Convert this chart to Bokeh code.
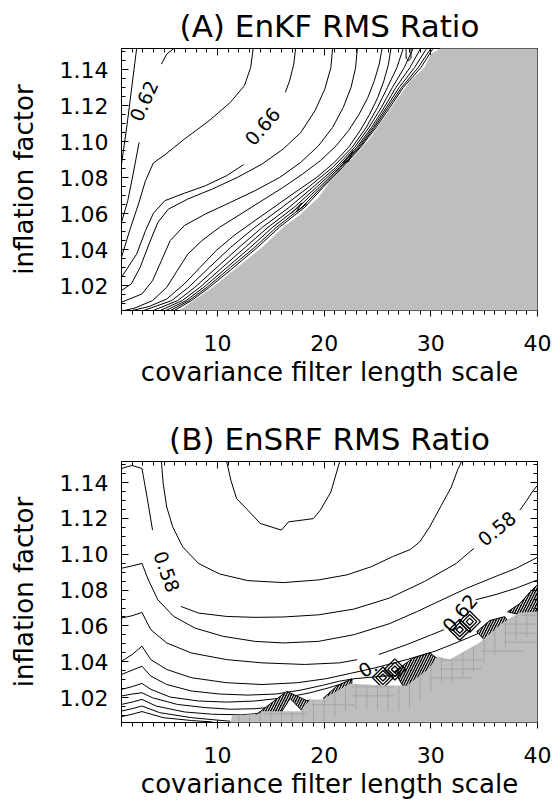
import numpy as np
from bokeh.plotting import figure
from bokeh.layouts import column
from bokeh.models import FixedTicker, LinearAxis, Range1d, PrintfTickFormatter, CustomJSTickFormatter
from bokeh.embed import file_html
from bokeh.resources import INLINE
from bokeh.core.properties import value

FONT = "DejaVu Sans"
GREY = "#bebebe"
CELL_GRID = "#a4a4a4"

# ---------------- axes / ticks ----------------
X_RANGE = (1.0, 40.0)
Y_RANGE = (1.0061, 1.1518)
X_MAJOR = [10, 20, 30, 40]
X_MINOR = list(range(1, 41))
Y_MAJOR = [1.02, 1.04, 1.06, 1.08, 1.10, 1.12, 1.14]
Y_MINOR = [1.005, 1.01, 1.015, 1.02, 1.025, 1.03, 1.035, 1.04, 1.045, 1.05, 1.055, 1.06,
           1.065, 1.07, 1.075, 1.08, 1.085, 1.09, 1.095, 1.10, 1.105, 1.11, 1.115, 1.12,
           1.125, 1.13, 1.135, 1.14, 1.145, 1.15]

# ---------------- Panel A: EnKF contour lines ----------------
a060_x = [2.42, 2.00, 1.53, 1.00]
a060_y = [1.1518, 1.1320, 1.1098, 1.0875]
a062u_x = [5.90, 5.24, 4.74]
a062u_y = [1.1518, 1.1487, 1.1431]
a062l_x = [2.65, 2.09, 1.59, 1.00]
a062l_y = [1.0996, 1.0820, 1.0672, 1.0551]
a064_x = [13.34, 13.11, 12.52, 11.20, 9.21, 6.89, 5.07, 3.98, 3.25, 2.59, 1.76, 1.00]
a064_y = [1.1518, 1.1412, 1.1311, 1.1218, 1.1116, 1.1014, 1.0927, 1.0881, 1.0783, 1.0653, 1.0505, 1.0357]
a066u_x = [17.32, 17.15, 16.76, 16.36]
a066u_y = [1.1518, 1.1431, 1.1338, 1.1274]
a066l_x = [12.45, 10.86, 8.88, 6.89, 5.07, 3.98, 3.25, 2.42, 1.00]
a066l_y = [1.0872, 1.0811, 1.0755, 1.0713, 1.0672, 1.0601, 1.0505, 1.0375, 1.0246]
a068_x = [20.79, 20.63, 20.06, 19.14, 17.81, 16.16, 14.17, 11.86, 9.54, 7.22, 5.40, 4.41, 3.58, 2.75, 1.92, 1.00]
a068_y = [1.1518, 1.1412, 1.1292, 1.1172, 1.1051, 1.0959, 1.0875, 1.0801, 1.0737, 1.0681, 1.0625, 1.0551, 1.0431, 1.0301, 1.0209, 1.0172]
a070_x = [23.11, 22.95, 22.52, 21.79, 20.79, 19.47, 17.81, 15.83, 13.51, 11.20, 8.88, 6.89, 5.57, 4.74, 3.91, 2.92, 1.00]
a070_y = [1.1518, 1.1412, 1.1301, 1.1190, 1.1079, 1.0977, 1.0885, 1.0801, 1.0727, 1.0662, 1.0598, 1.0533, 1.0450, 1.0338, 1.0227, 1.0153, 1.0107]
a072_x = [25.43, 25.16, 24.70, 24.10, 23.28, 22.28, 21.12, 19.64, 17.98, 16.16, 14.17, 12.19, 10.20, 8.55, 7.22, 6.23, 5.24, 3.91, 2.26, 1.26]
a072_y = [1.1518, 1.1431, 1.1338, 1.1246, 1.1153, 1.1061, 1.0977, 1.0894, 1.0820, 1.0746, 1.0672, 1.0598, 1.0524, 1.0450, 1.0375, 1.0283, 1.0190, 1.0116, 1.0075, 1.0061]
a074_x = [26.26, 26.03, 25.60, 25.03, 24.27, 23.37, 22.28, 20.96, 19.30, 17.48, 15.50, 13.51, 11.53, 9.87, 8.38, 6.89, 5.24, 3.58, 1.99]
a074_y = [1.1518, 1.1431, 1.1338, 1.1246, 1.1153, 1.1061, 1.0968, 1.0885, 1.0801, 1.0727, 1.0644, 1.0561, 1.0477, 1.0394, 1.0301, 1.0209, 1.0125, 1.0083, 1.0061]
a_outer_y = [1.1518, 1.1412, 1.1301, 1.1190, 1.1079, 1.0968, 1.0857, 1.0746, 1.0635, 1.0524, 1.0412, 1.0301, 1.0190, 1.0116, 1.0061]
a076_x = [27.41, 26.82, 25.93, 25.00, 23.94, 22.62, 20.79, 18.51, 16.06, 13.51, 11.23, 9.24, 7.29, 5.70, 3.09]
a078_x = [28.34, 27.51, 26.39, 25.36, 24.20, 22.85, 21.09, 18.94, 16.72, 14.21, 12.02, 9.94, 7.88, 6.26, 3.98]
a080_x = [29.04, 28.04, 26.72, 25.63, 24.44, 23.05, 21.29, 19.27, 17.19, 14.74, 12.59, 10.47, 8.35, 6.69, 4.64]
a082_x = [29.60, 28.47, 27.02, 25.83, 24.60, 23.18, 21.46, 19.54, 17.58, 15.17, 13.08, 10.90, 8.71, 7.06, 5.17]
a084_x = [30.00, 28.81, 27.25, 25.99, 24.73, 23.31, 21.59, 19.74, 17.91, 15.53, 13.48, 11.23, 9.01, 7.32, 5.60]
a086_x = [30.20, 29.07, 27.41, 26.16, 24.87, 23.41, 21.72, 19.90, 18.18, 15.80, 13.74, 11.53, 9.24, 7.55, 5.96]
a_loop_x = [27.68, 27.68, 27.91, 28.14, 28.14]
a_loop_y = [1.1518, 1.1464, 1.1449, 1.1464, 1.1518]
# small kinks of the packed contours near the divergence edge
a_kink_xs = [[16.9, 17.9, 17.4, 18.4], [21.8, 22.7, 22.3, 21.8]]
a_kink_ys = [[1.0600, 1.0660, 1.0610, 1.0655], [1.0880, 1.0950, 1.0890, 1.0880]]

# divergence (grey) boundary, panel A
a_grey_x = [6.40, 8.22, 9.54, 11.86, 14.17, 16.16, 17.82, 19.47, 20.80, 22.12, 24.10, 25.43, 26.75, 28.08, 29.40, 30.00, 30.89]
a_grey_y = [1.0061, 1.0135, 1.0190, 1.0301, 1.0412, 1.0524, 1.0598, 1.0690, 1.0801, 1.0875, 1.1005, 1.1116, 1.1227, 1.1338, 1.1412, 1.1487, 1.1518]

a_lab_x = [3.09, 14.20]
a_lab_y = [1.1227, 1.1085]
a_lab_t = ["0.62", "0.66"]
a_lab_ang = [66, 49]

# ---------------- Panel B: EnSRF contour lines ----------------
b054_x = [10.86, 11.26, 11.79, 12.85, 14.01, 15.99, 16.66, 18.98, 19.64, 20.63, 21.12, 21.46]
b054_y = [1.1518, 1.1412, 1.1311, 1.1246, 1.1172, 1.1135, 1.1181, 1.1199, 1.1246, 1.1348, 1.1449, 1.1518]
b056_x = [4.74, 4.91, 5.24, 5.80, 6.73, 8.22, 10.20, 12.85, 16.16, 19.47, 22.12, 24.43, 26.42, 28.08, 28.97, 29.89, 30.99, 31.92, 32.55, 32.88]
b056_y = [1.1518, 1.1394, 1.1264, 1.1153, 1.1042, 1.0949, 1.0890, 1.0853, 1.0842, 1.0857, 1.0885, 1.0931, 1.0987, 1.1027, 1.1070, 1.1153, 1.1274, 1.1375, 1.1477, 1.1518]
b058a_x = [1.00, 1.99, 2.92, 3.42, 3.91]
b058a_y = [1.1479, 1.1496, 1.1479, 1.1311, 1.1135]
b058b_x = [6.56, 8.22, 10.86, 13.51, 16.16, 19.47, 22.78, 26.09, 29.40, 32.38, 34.04]
b058b_y = [1.0709, 1.0672, 1.0653, 1.0648, 1.0650, 1.0662, 1.0694, 1.0755, 1.0848, 1.0949, 1.1033]
b058c_x = [38.34, 39.00, 39.50, 40.00]
b058c_y = [1.1246, 1.1301, 1.1348, 1.1385]
b060_x = [1.00, 1.99, 2.92, 3.52, 4.41, 5.90, 7.89, 10.53, 13.51, 16.16, 19.47, 22.78, 26.09, 28.74, 31.05, 33.39, 36.02, 38.01, 40.00]
b060_y = [1.0922, 1.0935, 1.0949, 1.0857, 1.0746, 1.0653, 1.0588, 1.0542, 1.0514, 1.0505, 1.0514, 1.0551, 1.0612, 1.0681, 1.0746, 1.0811, 1.0875, 1.0922, 1.0983]
b062a_x = [1.00, 1.99, 2.92, 3.75, 5.24, 7.55, 10.86, 14.17, 18.14, 21.46, 23.11]
b062a_y = [1.0644, 1.0657, 1.0675, 1.0579, 1.0505, 1.0449, 1.0412, 1.0394, 1.0385, 1.0394, 1.0412]
b062b_x = [25.10, 27.75, 30.06, 31.22]
b062b_y = [1.0440, 1.0496, 1.0551, 1.0579]
b062c_x = [34.20, 36.02, 38.01, 40.00]
b062c_y = [1.0746, 1.0774, 1.0811, 1.0857]
b064_x = [1.00, 1.99, 2.92, 3.75, 5.24, 7.55, 10.86, 14.17, 17.48, 20.13, 22.45, 24.77, 27.75, 30.39, 32.71, 34.57, 36.02]
b064_y = [1.0403, 1.0440, 1.0487, 1.0412, 1.0357, 1.0311, 1.0283, 1.0273, 1.0283, 1.0305, 1.0335, 1.0366, 1.0412, 1.0459, 1.0514, 1.0561, 1.0598]
b066_x = [1.00, 1.99, 2.92, 3.75, 5.24, 7.55, 10.20, 12.85, 15.50, 17.81, 19.81, 21.46, 22.78, 24.77, 26.76, 28.74, 29.70]
b066_y = [1.0329, 1.0353, 1.0375, 1.0320, 1.0273, 1.0237, 1.0220, 1.0214, 1.0220, 1.0242, 1.0268, 1.0292, 1.0305, 1.0316, 1.0324, 1.0348, 1.0366]
b068_x = [1.00, 1.99, 2.92, 3.75, 5.57, 8.22, 10.86, 13.51, 15.50, 17.15, 18.68, 20.46, 22.42]
b068_y = [1.0246, 1.0261, 1.0279, 1.0246, 1.0203, 1.0181, 1.0175, 1.0181, 1.0194, 1.0209, 1.0227, 1.0255, 1.0292]
b070_x = [1.00, 1.99, 2.92, 3.91, 6.23, 8.88, 11.20, 13.51, 15.50, 17.15, 18.68]
b070_y = [1.0209, 1.0220, 1.0227, 1.0199, 1.0162, 1.0144, 1.0135, 1.0138, 1.0149, 1.0162, 1.0187]
b072_x = [1.00, 1.99, 2.92, 4.24, 6.89, 9.54, 12.19, 14.01]
b072_y = [1.0162, 1.0175, 1.0190, 1.0153, 1.0120, 1.0107, 1.0104, 1.0112]
b074_x = [1.00, 1.99, 2.92, 4.57, 7.55, 9.87, 11.20]
b074_y = [1.0125, 1.0138, 1.0153, 1.0116, 1.0088, 1.0075, 1.0068]
b076_x = [1.00, 1.99, 2.92, 4.91, 7.55, 9.54]
b076_y = [1.0094, 1.0107, 1.0122, 1.0088, 1.0072, 1.0064]

# divergence (grey) boundary, panel B
b_grey_x = [11.20, 11.39, 13.82, 14.20, 17.76, 18.69, 19.81, 22.43, 25.51, 27.76, 29.72, 30.65, 31.77, 34.58, 36.73, 38.32, 40.00]
b_grey_y = [1.0062, 1.0102, 1.0107, 1.0124, 1.0124, 1.0190, 1.0190, 1.0279, 1.0268, 1.0268, 1.0357, 1.0429, 1.0413, 1.0507, 1.0618, 1.0674, 1.0680]
# cell outlines visible in the grey next to the edge (panel B)
B_CELL_X = list(range(12, 40))
B_CELL_Y = [1.011, 1.016, 1.021, 1.026, 1.031, 1.036, 1.041, 1.046, 1.051, 1.056, 1.061, 1.066]

# densely packed contour bunches near the divergence edge (panel B)
b_bunch_xs = [[13.40, 16.50, 19.00, 18.80],
              [19.90, 21.20, 22.60, 22.60, 20.50],
              [26.60, 28.32, 29.91, 31.30, 30.56, 28.97, 27.40],
              [34.30, 35.52, 36.92, 37.70, 36.92, 35.52],
              [37.20, 38.32, 39.30, 40.00, 40.00, 38.32]]
b_bunch_ys = [[1.0095, 1.0235, 1.0165, 1.0100],
              [1.0195, 1.0265, 1.0305, 1.0280, 1.0192],
              [1.0346, 1.0420, 1.0450, 1.0385, 1.0295, 1.0285, 1.0262],
              [1.0568, 1.0630, 1.0652, 1.0590, 1.0500, 1.0490],
              [1.0679, 1.0724, 1.0790, 1.0830, 1.0679, 1.0663]]
b_gap_xs = [[15.9, 16.8, 18.2]]
b_gap_ys = [[1.0110, 1.0195, 1.0110]]
b_diam_x = [32.71, 33.65, 25.51, 26.63]
b_diam_y = [1.0579, 1.0624, 1.0312, 1.0357]

b_lab_x = [5.24, 36.19, 32.71, 24.10]
b_lab_y = [1.0903, 1.1144, 1.0672, 1.0366]
b_lab_t = ["0.58", "0.58", "0.62", "0."]
b_lab_ang = [-70, 39, 50, 30]

FRAME_H = 262          # frame height in pixels (same for both panels)
TITLE_GAP_PX = 23      # title baseline above the frame


def make_panel(height, top, bottom):
    p = figure(width=552, height=height, x_range=Range1d(*X_RANGE), y_range=Range1d(*Y_RANGE),
               output_backend="svg", toolbar_location=None,
               min_border_left=121, min_border_right=15, min_border_top=top, min_border_bottom=bottom)
    p.grid.visible = False
    p.outline_line_color = None
    p.background_fill_color = "white"
    p.border_fill_color = "white"

    xt = FixedTicker(ticks=X_MAJOR, minor_ticks=X_MINOR)
    yt = FixedTicker(ticks=Y_MAJOR, minor_ticks=Y_MINOR)

    for ax in p.xaxis:
        ax.ticker = xt
        ax.formatter = PrintfTickFormatter(format="%d")
        ax.axis_label = "covariance filter length scale"
        ax.major_label_standoff = 18
        ax.axis_label_standoff = 3
    for ax in p.yaxis:
        ax.ticker = yt
        ax.formatter = PrintfTickFormatter(format="%.2f")
        ax.axis_label = "inflation factor"
        ax.major_label_standoff = 13
        ax.axis_label_standoff = 18
    for ax in list(p.xaxis) + list(p.yaxis):
        ax.major_label_text_font = FONT
        ax.major_label_text_font_size = "22px"
        ax.major_label_text_color = "black"
        ax.axis_label_text_font = FONT
        ax.axis_label_text_font_size = "26px"
        ax.axis_label_text_font_style = "normal"
        ax.axis_label_text_color = "black"

    blank = CustomJSTickFormatter(code="return ''")
    top_ax = LinearAxis(ticker=xt, formatter=blank, major_label_standoff=0)
    right_ax = LinearAxis(ticker=yt, formatter=blank, major_label_standoff=0)
    p.add_layout(top_ax, "above")
    p.add_layout(right_ax, "right")
    for ax in [p.xaxis[0], p.yaxis[0], top_ax, right_ax]:
        ax.major_tick_in = 7
        ax.major_tick_out = 0
        ax.minor_tick_in = 4
        ax.minor_tick_out = 0
        ax.axis_line_color = "black"
        ax.major_tick_line_color = "black"
        ax.minor_tick_line_color = "black"
    return p


def panel_title(p, title):
    # drawn unclipped just above the frame, centred on it
    y_top = Y_RANGE[1] + TITLE_GAP_PX * (Y_RANGE[1] - Y_RANGE[0]) / FRAME_H
    p.text(x=[(X_RANGE[0] + X_RANGE[1]) / 2], y=[y_top], text=[title],
           text_font=value(FONT), text_font_size="31px", text_color="black",
           text_align="center", text_baseline="alphabetic", level="overlay")


def grey_region(p, gx, gy):
    x0, x1 = X_RANGE
    y0, y1 = Y_RANGE
    xs = [gx[0]] + gx + [x1, x1]
    ys = [y0] + gy + [y1 if gy[-1] >= y1 else gy[-1], y0]
    p.patch(xs, ys, fill_color=GREY, line_color=None, level="overlay")


def cell_outlines(p, gx, gy, cx, cy):
    # short cell edges drawn inside the grey, next to its edge
    y0 = Y_RANGE[0]
    gx_a = np.array(gx)
    gy_a = np.array(gy)
    xs, ys = [], []
    for k in cx:
        yb = float(np.interp(k, gx_a, gy_a))
        xs.append([k, k])
        ys.append([yb - 0.0004, max(yb - 0.014, y0 + 0.0003)])
    top_env = np.maximum.accumulate(gy_a)
    for yv in cy:
        idx = int(np.argmax(top_env >= yv)) if np.any(top_env >= yv) else len(gx) - 1
        xb = float(gx_a[idx]) + 0.15
        xs.append([xb, min(xb + 4.0, X_RANGE[1] - 0.05)])
        ys.append([yv, yv])
    p.multi_line(xs=xs, ys=ys, line_color=CELL_GRID, line_width=1, level="overlay")


def labels(p, lx, ly, lt, la):
    p.text(x=lx, y=ly, text=lt, angle=[np.deg2rad(a) for a in la],
           text_font=value(FONT), text_font_size="19px", text_color="black",
           text_align="center", text_baseline="middle")


# ---------- panel A ----------
pA = make_panel(400, 48, 90)
a_xs = [a060_x, a062u_x, a062l_x, a064_x, a066u_x, a066l_x, a068_x, a070_x, a072_x, a074_x,
        a076_x, a078_x, a080_x, a082_x, a084_x, a086_x, a_loop_x] + a_kink_xs
a_ys = [a060_y, a062u_y, a062l_y, a064_y, a066u_y, a066l_y, a068_y, a070_y, a072_y, a074_y,
        a_outer_y, a_outer_y, a_outer_y, a_outer_y, a_outer_y, a_outer_y, a_loop_y] + a_kink_ys
pA.multi_line(xs=a_xs, ys=a_ys, line_color="black", line_width=1)
grey_region(pA, a_grey_x, a_grey_y)
labels(pA, a_lab_x, a_lab_y, a_lab_t, a_lab_ang)
panel_title(pA, "(A) EnKF RMS Ratio")

# ---------- panel B ----------
pB = make_panel(401, 61, 78)
b_xs = [b054_x, b056_x, b058a_x, b058b_x, b058c_x, b060_x, b062a_x, b062b_x, b062c_x,
        b064_x, b066_x, b068_x, b070_x, b072_x, b074_x, b076_x]
b_ys = [b054_y, b056_y, b058a_y, b058b_y, b058c_y, b060_y, b062a_y, b062b_y, b062c_y,
        b064_y, b066_y, b068_y, b070_y, b072_y, b074_y, b076_y]
pB.multi_line(xs=b_xs, ys=b_ys, line_color="black", line_width=1)
pB.patches(xs=b_bunch_xs, ys=b_bunch_ys, fill_color="black", line_color="black", line_width=1,
           hatch_pattern="/", hatch_color="white", hatch_scale=5, hatch_weight=1)
pB.patches(xs=b_gap_xs, ys=b_gap_ys, fill_color="white", line_color="black", line_width=1)
for s in [5, 10, 15]:
    pB.scatter(b_diam_x, b_diam_y, marker="square", angle=np.pi / 4, size=s,
               fill_color=None, line_color="black", line_width=1.3)
grey_region(pB, b_grey_x, b_grey_y)
cell_outlines(pB, b_grey_x, b_grey_y, B_CELL_X, B_CELL_Y)
labels(pB, b_lab_x, b_lab_y, b_lab_t, b_lab_ang)
panel_title(pB, "(B) EnSRF RMS Ratio")

layout = column(pA, pB)
open("out.html", "w").write(file_html(layout, INLINE))
